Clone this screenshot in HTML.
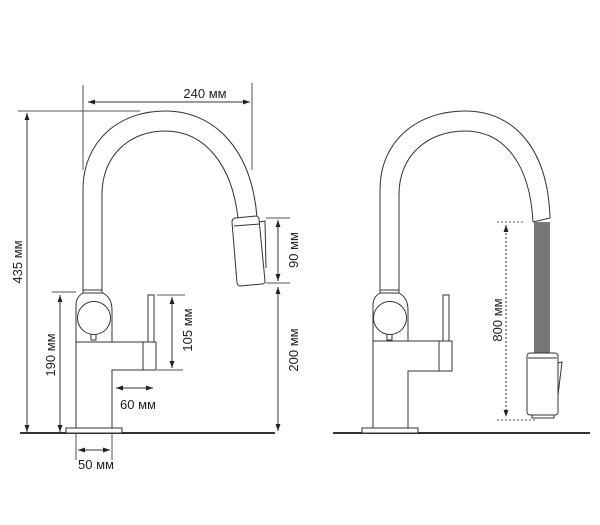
<!DOCTYPE html>
<html><head><meta charset="utf-8"><style>
html,body{margin:0;padding:0;background:#fff;}
svg{display:block;}
text{font-family:"Liberation Sans",sans-serif;font-size:13px;fill:#222;}
</style></head><body>
<svg width="600" height="525" viewBox="0 0 600 525" xmlns="http://www.w3.org/2000/svg">
<defs>
<marker id="a" viewBox="0 0 10 10" refX="10" refY="5" markerWidth="7" markerHeight="7" orient="auto-start-reverse"><path d="M0,1.5 L10,5 L0,8.5 z" fill="#222"/></marker>
</defs>
<g fill="none" stroke="#333" stroke-width="1">
<line x1="20" y1="433" x2="275" y2="433" stroke-width="2"/>
<rect x="66" y="428" width="56" height="5" fill="#fff"/>
<path d="M76,428 V342 H156 V370 H112 V428"/>
<line x1="143" y1="342" x2="143" y2="370"/>
<rect x="148" y="295" width="6" height="47" fill="#fff"/>
<path d="M76,342 V305 Q76,297 83,293 H103 Q112,298 112,310 V342"/>
<circle cx="94" cy="318" r="16.5" fill="#fff"/>
<path d="M91,334 v6 h5 v-6"/>
<path d="M83,293 V190 C83,140 120,111 165,111 C215,111 252,150 257,218"/>
<path d="M102,293 V195 C102,155 130,131 165,131 C205,131 232,165 238,218"/>
<line x1="83" y1="290" x2="102" y2="290"/>
<path d="M235,218 L256,216 Q258,216 259,219 L265,281 Q265,284 262,284 L240,286 Q238,286 237,283 L232,222 Q232,219 235,218 Z" fill="#fff"/>
<line x1="234" y1="226" x2="260" y2="224"/>
<path d="M259,222 L265,221 L266,268"/>
<line x1="83" y1="85" x2="83" y2="170" stroke="#555"/>
<line x1="252" y1="83" x2="252" y2="170" stroke="#555"/>
<line x1="88" y1="102" x2="250" y2="102" marker-start="url(#a)" marker-end="url(#a)"/>
<line x1="18" y1="111" x2="140" y2="111" stroke="#555"/>
<line x1="27" y1="113" x2="27" y2="432" marker-start="url(#a)" marker-end="url(#a)"/>
<line x1="52" y1="292" x2="76" y2="292" stroke="#555"/>
<line x1="60" y1="295" x2="60" y2="432" marker-start="url(#a)" marker-end="url(#a)"/>
<line x1="157" y1="295" x2="185" y2="295" stroke="#555"/>
<line x1="157" y1="370" x2="183" y2="370" stroke="#555"/>
<line x1="172" y1="297" x2="172" y2="368" marker-start="url(#a)" marker-end="url(#a)"/>
<line x1="116" y1="388" x2="153" y2="388" marker-start="url(#a)" marker-end="url(#a)"/>
<line x1="76" y1="434" x2="76" y2="460" stroke="#555"/>
<line x1="112" y1="434" x2="112" y2="460" stroke="#555"/>
<line x1="78" y1="450" x2="110" y2="450" marker-start="url(#a)" marker-end="url(#a)"/>
<line x1="266" y1="218" x2="290" y2="218" stroke="#555"/>
<line x1="266" y1="283" x2="290" y2="283" stroke="#555"/>
<line x1="278" y1="220" x2="278" y2="281" marker-start="url(#a)" marker-end="url(#a)"/>
<line x1="278" y1="287" x2="278" y2="431" marker-start="url(#a)" marker-end="url(#a)"/>
<line x1="333" y1="433" x2="590" y2="433" stroke-width="2"/>
<rect x="362" y="428" width="56" height="5" fill="#fff"/>
<path d="M373,428 V341 H452 V371 H408 V428"/>
<line x1="439" y1="341" x2="439" y2="371"/>
<rect x="443" y="295" width="6" height="46" fill="#fff"/>
<path d="M373,341 V305 Q373,297 380,293 H399 Q408,298 408,310 V341"/>
<circle cx="390" cy="318" r="16.5" fill="#fff"/>
<path d="M387,334 v6 h5 v-6"/>
<path d="M380,293 V190 C380,140 418,111 465,111 C515,111 548,150 550,218"/>
<path d="M399,293 V195 C399,155 428,131 465,131 C505,131 530,165 533,222"/>
<line x1="380" y1="290" x2="399" y2="290"/>
<rect x="534" y="222" width="16" height="131" fill="#777" stroke="none"/>
<line x1="533" y1="222" x2="550" y2="218"/>
<rect x="527" y="353" width="31" height="62" rx="3" fill="#fff"/>
<line x1="528" y1="358" x2="557" y2="358"/>
<path d="M558,363 L562,362 L558,395"/>
<path d="M532,415 v3 h22 v-3"/>
<line x1="497" y1="222" x2="525" y2="222" stroke-dasharray="2,2" stroke="#555"/>
<line x1="497" y1="420" x2="535" y2="420" stroke-dasharray="2,2" stroke="#555"/>
<line x1="506" y1="225" x2="506" y2="417" stroke-dasharray="2,2" marker-start="url(#a)" marker-end="url(#a)"/>
</g>
<text x="205" y="98" text-anchor="middle">240 мм</text>
<text x="138" y="409" text-anchor="middle">60 мм</text>
<text x="96" y="469" text-anchor="middle">50 мм</text>
<text transform="translate(22,262) rotate(-90)" text-anchor="middle">435 мм</text>
<text transform="translate(55,355) rotate(-90)" text-anchor="middle">190 мм</text>
<text transform="translate(192,330) rotate(-90)" text-anchor="middle">105 мм</text>
<text transform="translate(298,250) rotate(-90)" text-anchor="middle">90 мм</text>
<text transform="translate(298,350) rotate(-90)" text-anchor="middle">200 мм</text>
<text transform="translate(502,320) rotate(-90)" text-anchor="middle">800 мм</text>
</svg>
</body></html>
